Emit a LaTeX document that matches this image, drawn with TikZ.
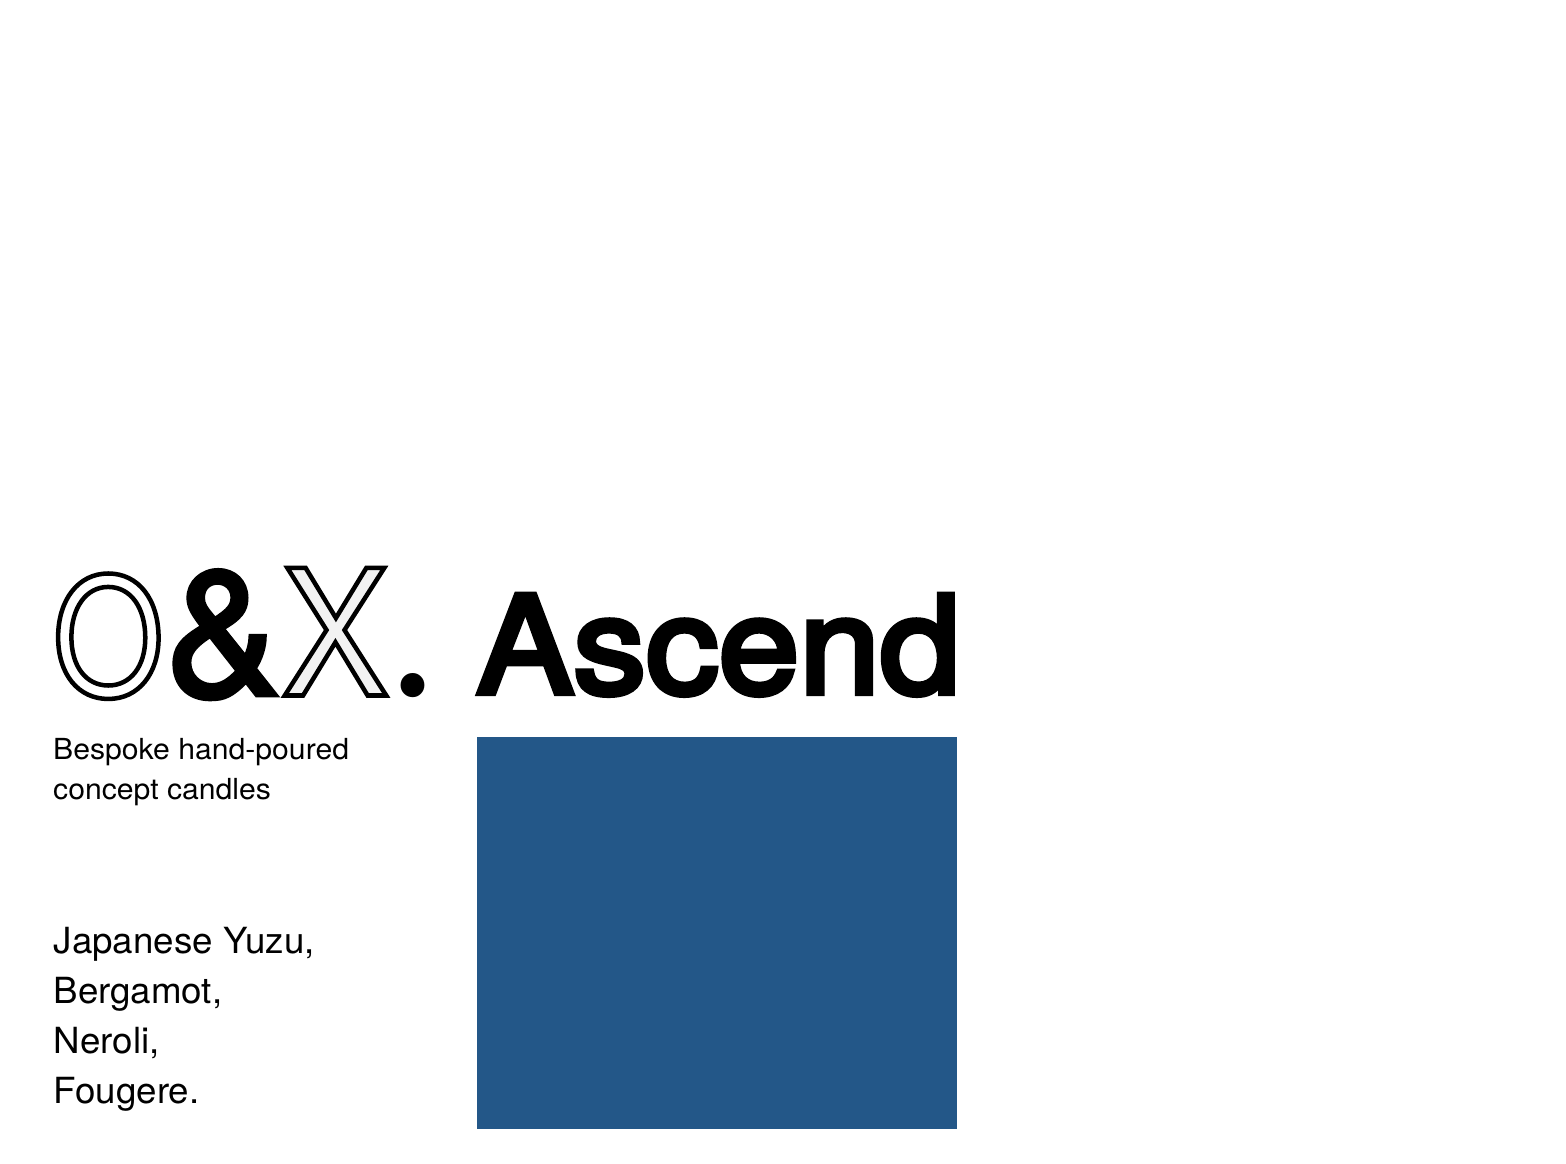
\documentclass[tikz,border=0pt]{standalone}
\usepackage{fontspec}
\setmainfont{TeX Gyre Heros}
\newfontfamily\ascf[FakeStretch=1.075]{TeX Gyre Heros}
\newfontfamily\subf[FakeStretch=1.04]{TeX Gyre Heros}
\newfontfamily\notef[FakeStretch=1.02]{TeX Gyre Heros}
\newfontfamily\ohf[FakeStretch=0.87]{TeX Gyre Heros}
\newfontfamily\exf[FakeStretch=0.925]{TeX Gyre Heros}
\newfontfamily\ampf[FakeStretch=0.98]{TeX Gyre Heros}
\newfontfamily\dotf{Poppins}
\definecolor{blu}{HTML}{235788}
\newcommand{\outl}[3]{\special{pdf:code q 2 Tr #1 w #2 g 0 G}#3\special{pdf:code Q}}
\tikzset{
 big/.style={inner sep=0pt,anchor=base west},
 head/.style={inner sep=0pt,anchor=base west,font=\ascf\fontsize{135}{135}\selectfont},
 sub/.style={inner sep=0pt,anchor=base west,font=\subf\fontsize{29}{29}\selectfont},
 notes/.style={inner sep=0pt,anchor=base west,font=\notef\fontsize{36}{36}\selectfont}
}
\begin{document}
\begin{tikzpicture}[x=1pt,y=-1pt]
\useasboundingbox (0,0) rectangle (1566,1164);
\fill[white] (0,0) rectangle (1566,1164);
\fill[blu] (477.2,737.2) rectangle (957,1129);
\node[big,font=\ohf\fontsize{164}{164}\selectfont] (o) at (52.5,696) {\outl{4.5}{1}{O}};
\node[big,font=\ampf\fontsize{176}{176}\selectfont] (amp) at (165.5,695) {\outl{4.5}{0}{\&}};
\node[big,font=\exf\fontsize{175}{175}\selectfont] (x) at (281,695.5) {\outl{4.5}{0.95}{X}};
\node[big,font=\dotf\fontsize{195}{195}\selectfont] (dot) at (392.5,696) {.};
\node[head] (asc) at (476.5,693) {\outl{6}{0}{Ascend}};
\node[sub] (s1) at (53,759) {Bespoke hand-poured};
\node[sub] (s2) at (53,799) {concept candles};
\node[notes] (n1) at (53.5,953) {Japanese Yuzu,};
\node[notes] (n2) at (53.5,1003) {Bergamot,};
\node[notes] (n3) at (53.5,1053) {Neroli,};
\node[notes] (n4) at (53.5,1103) {Fougere.};
\end{tikzpicture}
\end{document}
